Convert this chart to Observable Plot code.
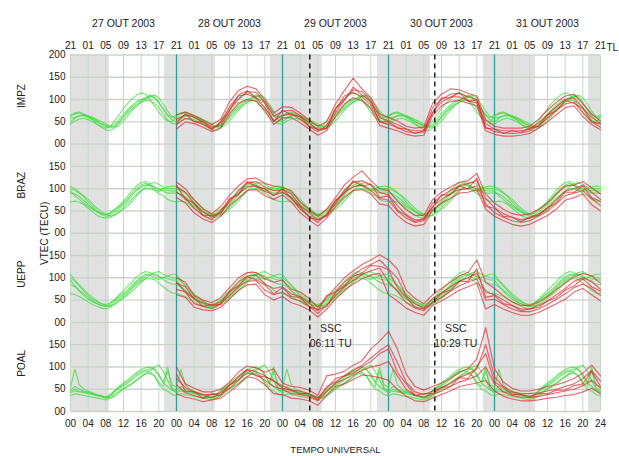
<!DOCTYPE html>
<html>
<head>
<meta charset="utf-8">
<script src="https://cdn.jsdelivr.net/npm/d3@7"></script>
<script src="https://cdn.jsdelivr.net/npm/@observablehq/plot@0.6"></script>
<style>
  html, body { margin: 0; padding: 0; background: #fff; }
  svg { display: block; }
</style>
</head>
<body>
<div id="chart"></div>
<script>
// Stations (top to bottom)
const stations = ["IMPZ", "BRAZ", "UEPP", "POAL"];
const dayLabels = ["27 OUT 2003", "28 OUT 2003", "29 OUT 2003", "30 OUT 2003", "31 OUT 2003"];
const dayBoundaries = [24, 48, 72, 96];             // UT hours (00 TU of each day)
const sscTimes = [54.18, 82.48];                    // 29 OUT 06:11 TU, 30 OUT 10:29 TU
const sscLabels = ["SSC\n06:11 TU", "SSC\n10:29 TU"];
const nightStart = [0, 21.3, 45.3, 69.5, 93.5, 117.3];   // UT hours
const nightEnd   = [8.8, 32.8, 57.0, 81.5, 105.3, 120];
const xTicks = d3.range(0, 121, 4);
const yTicks = d3.range(0, 801, 50);

// Quiet day (27 OUT) hourly VTEC curves, UT 00..23 (overlaid on every day)
const greenIMPZ = [
  [62,70,72,68,62,54,46,40,36,40,52,66,80,92,102,110,115,112,100,86,72,60,52,50],
  [50,58,63,64,62,58,52,45,40,36,40,50,62,74,84,92,98,104,108,104,92,78,64,54],
  [45,52,56,58,55,50,44,38,32,30,36,48,60,70,80,88,94,98,98,92,82,68,54,46],
  [66,68,70,66,60,56,50,46,42,40,44,56,68,78,88,96,100,104,110,106,94,80,66,60],
  [58,60,64,66,64,60,55,50,45,40,38,42,52,64,76,86,94,100,106,110,104,90,74,62]
];
const greenBRAZ = [
  [105,100,92,82,70,60,50,44,42,46,54,62,72,84,96,106,114,116,110,102,98,100,104,106],
  [90,88,82,74,64,56,48,42,38,40,48,56,64,74,86,96,104,108,108,104,100,94,90,90],
  [70,72,70,64,56,48,40,36,34,36,42,50,58,68,78,88,96,100,100,96,90,84,76,72],
  [95,84,76,68,60,54,48,44,42,44,52,60,68,78,90,100,108,112,106,98,94,98,96,95],
  [100,96,90,84,76,66,56,48,42,38,40,46,54,62,72,84,94,104,112,114,110,104,100,100]
];
const greenUEPP = [
  [108,95,82,70,60,52,46,42,40,44,52,62,72,82,92,102,110,114,112,106,102,100,104,108],
  [85,80,72,64,56,48,42,38,36,38,46,54,62,70,80,90,98,104,108,108,104,96,90,86],
  [65,62,58,52,46,40,36,32,30,34,42,50,58,66,76,86,94,98,98,96,88,80,72,66],
  [95,82,70,60,52,46,42,38,36,42,50,58,66,74,84,94,102,108,106,100,96,102,98,95],
  [100,92,84,74,64,56,48,42,38,36,40,46,54,62,70,80,90,98,106,112,114,108,104,100]
];
const greenPOAL = [
  [55,95,60,50,46,42,38,35,32,38,48,56,64,72,80,88,94,98,100,96,80,66,90,60],
  [45,50,46,44,42,40,36,33,30,34,44,52,58,64,72,80,86,92,96,94,84,64,56,48],
  [35,40,38,36,34,32,30,28,26,30,38,46,52,58,64,72,78,84,86,80,62,50,46,38],
  [48,56,50,46,44,40,37,34,32,36,46,54,60,68,76,84,90,92,88,80,66,56,100,52],
  [42,46,44,42,40,38,36,34,32,30,34,42,50,56,62,70,78,86,92,100,104,90,70,50]
];

// Storm days (28-31 OUT) VTEC curves, every 2 h from UT 24 to UT 120
const redIMPZ = [
  [66,72,64,54,44,56,95,120,130,124,100,70, 84,82,70,54,40,50,90,120,148,124,104,68,
   60,52,40,36,38,92,112,124,122,114,108,55, 40,36,36,36,40,56,76,94,108,112,90,68,52],
  [55,66,60,50,38,42,76,100,118,116,95,62, 74,76,64,48,32,36,70,100,122,118,98,60,
   52,44,34,30,30,82,100,112,114,106,100,46, 34,30,30,30,34,48,66,84,100,104,82,60,46],
  [44,58,52,44,34,48,84,108,112,104,82,52, 64,68,56,40,28,42,78,108,116,106,88,50,
   44,38,28,25,26,72,94,106,106,98,92,38, 28,25,24,25,30,42,58,76,90,94,70,50,38],
  [34,50,46,38,28,36,68,92,100,96,76,44, 58,60,48,34,20,30,62,90,104,98,80,42,
   36,30,22,18,20,64,86,96,98,92,86,30, 22,18,18,20,24,36,50,66,82,86,62,44,32],
  [48,68,50,50,32,50,74,110,120,104,92,50, 76,66,62,40,34,34,80,98,128,110,96,50,
   50,36,34,24,30,70,104,104,116,96,100,36, 34,24,30,26,36,40,66,74,98,92,80,50,46]
];
const redBRAZ = [
  [115,100,75,55,44,60,85,106,122,124,112,106, 102,96,70,54,38,54,80,108,126,140,118,100,
   96,72,52,40,40,76,92,104,114,118,134,88, 68,54,44,40,44,54,68,88,106,108,116,102,88],
  [104,92,66,48,36,46,70,95,112,116,104,96, 98,88,62,46,30,40,66,96,114,118,108,92,
   86,62,42,30,30,68,84,96,106,112,118,78, 58,44,36,30,34,44,56,76,94,100,108,92,76],
  [92,80,56,40,30,50,76,88,104,106,94,86, 92,80,54,38,24,44,72,92,104,108,96,78,
   74,50,34,24,28,60,76,88,98,100,106,66, 46,36,28,24,28,38,50,66,84,90,96,78,62],
  [80,68,46,32,24,38,62,78,96,98,84,76, 86,70,46,30,16,34,60,82,96,98,88,66,
   62,40,24,16,20,52,68,78,90,92,98,54, 38,28,20,16,20,30,40,54,74,80,88,64,50],
  [108,76,68,40,40,44,78,86,116,104,100,84, 100,78,60,36,30,38,74,90,118,106,110,80,
   84,52,40,26,34,58,86,86,106,100,124,60, 56,38,36,26,36,40,58,68,92,92,106,80,72]
];
const redUEPP = [
  [100,90,60,50,44,56,78,100,112,112,98,90, 95,75,68,54,34,56,78,100,116,130,140,152,
   140,120,72,54,42,62,76,90,104,112,140,90, 76,60,46,38,38,46,58,74,88,102,110,104,88],
  [88,80,52,44,38,46,68,90,104,106,86,76, 80,64,58,44,26,60,68,90,106,120,130,140,
   120,100,60,42,32,54,66,80,92,100,110,68, 62,50,38,30,30,38,48,62,76,92,100,92,74],
  [74,68,42,36,32,42,60,80,92,94,72,62, 68,54,48,36,20,38,60,80,94,108,116,122,
   90,70,44,32,26,46,56,70,82,90,98,50, 52,40,30,24,24,30,40,52,64,78,86,76,60],
  [62,56,34,28,26,34,52,72,84,86,62,50, 58,44,38,28,12,30,52,72,86,98,106,110,
   62,48,32,22,16,38,48,60,72,80,88,30, 40,30,22,16,16,22,32,42,52,68,76,62,48],
  [90,68,54,36,40,40,70,82,102,96,84,64, 78,58,56,36,28,36,68,82,104,110,128,126,
   118,78,56,34,30,44,66,72,92,92,120,56, 60,42,38,26,30,34,48,56,72,82,98,80,70]
];
const redPOAL = [
  [100,62,52,44,44,50,66,88,102,98,88,96, 64,56,54,48,36,80,84,90,104,114,140,158,
   180,140,84,56,48,56,64,74,88,96,118,188, 96,66,52,46,46,50,56,60,66,74,86,104,80],
  [74,54,44,38,38,42,58,78,94,90,80,68, 58,48,46,40,30,52,74,80,92,104,120,136,
   150,110,66,44,38,46,54,64,76,84,96,150, 78,56,44,40,40,42,46,50,56,62,74,92,68],
  [60,42,36,30,32,38,52,70,86,82,70,56, 50,40,38,34,24,44,64,72,82,92,100,104,
   112,80,50,36,32,38,46,56,66,72,80,100, 62,44,36,32,32,34,38,42,46,50,58,70,52],
  [40,32,28,22,26,30,44,60,78,74,60,40, 38,30,28,24,14,36,56,62,72,82,80,76,
   70,50,34,24,22,30,38,46,56,60,64,70, 46,34,28,24,24,26,30,32,36,38,44,52,40],
  [84,46,44,30,40,36,60,70,94,80,78,70, 52,48,40,40,26,56,66,80,86,100,112,130,
   140,88,62,36,40,40,54,56,76,74,100,130, 66,54,38,38,34,40,40,48,48,58,62,90,56]
];

const greens = {IMPZ: greenIMPZ, BRAZ: greenBRAZ, UEPP: greenUEPP, POAL: greenPOAL};
const reds = {IMPZ: redIMPZ, BRAZ: redBRAZ, UEPP: redUEPP, POAL: redPOAL};

// Build tables: each station panel is stacked by an offset of 200 TECU
const greenRows = [], redRows = [];
stations.forEach((s, i) => {
  const off = (stations.length - 1 - i) * 200;
  greens[s].forEach((curve, c) => {
    for (let t = 0; t <= 120; t++) greenRows.push({id: `${s}-g${c}`, t, v: curve[t % 24] + off});
  });
  reds[s].forEach((curve, c) => {
    curve.forEach((v, k) => redRows.push({id: `${s}-r${c}`, t: 24 + 2 * k, v: v + off}));
  });
});
const nights = nightStart.map((a, i) => ({a, b: nightEnd[i]}));
const stationRows = stations.map((s, i) => ({s, y: (stations.length - 1 - i) * 200 + 108}));
const dayRows = dayLabels.map((d, i) => ({d, x: i * 24 + 12}));
const sscRows = sscTimes.map((t, i) => ({t, label: sscLabels[i]}));

const pad = n => String(n).padStart(2, "0");
const font = "Liberation Sans, Arial, sans-serif";

const chart = Plot.plot({
  width: 619,
  height: 456,
  marginTop: 54.5,
  marginBottom: 45,
  marginLeft: 70,
  marginRight: 19,
  style: {fontFamily: font, fontSize: "10px", background: "#fff", color: "#222"},
  x: {domain: [0, 120]},
  y: {domain: [0, 800]},
  marks: [
    Plot.rect(nights, {x1: "a", x2: "b", fill: "#e1e1e1"}),
    Plot.gridX(xTicks, {stroke: "#c6d9c6", strokeOpacity: 1, strokeWidth: 1}),
    Plot.gridY(yTicks, {stroke: "#cbd3cb", strokeOpacity: 1, strokeWidth: 1.4}),
    Plot.ruleX(dayBoundaries, {stroke: "#2f9ea2", strokeWidth: 1.3}),
    Plot.line(greenRows, {x: "t", y: "v", z: "id", stroke: "#3ddc3d", strokeWidth: 1.15, strokeOpacity: 0.7}),
    Plot.line(redRows, {x: "t", y: "v", z: "id", stroke: "#e3202a", strokeWidth: 1.15, strokeOpacity: 0.68}),
    Plot.ruleX(sscTimes, {stroke: "#222", strokeWidth: 1.5, strokeDasharray: "5,4"}),
    Plot.text(sscRows, {x: "t", y: () => 172, text: "label", dx: 21, lineHeight: 1.45, fontSize: 10.5, fill: "#222"}),
    Plot.axisX(xTicks, {anchor: "bottom", tickSize: 0, tickPadding: 8, label: null,
      tickFormat: t => t === 120 ? "24" : pad(t % 24), fontSize: 10}),
    Plot.axisX(xTicks, {anchor: "top", tickSize: 0, tickPadding: 6, label: null,
      tickFormat: t => pad(((t - 3) % 24 + 24) % 24), fontSize: 10}),
    Plot.axisY(yTicks, {anchor: "left", tickSize: 0, tickPadding: 5, label: null,
      tickFormat: v => v === 800 ? "200" : (v % 200 === 0 ? "00" : String(v % 200)), fontSize: 10}),
    Plot.text(dayRows, {x: "x", text: "d", frameAnchor: "top", dy: -35, fontSize: 10.5, fill: "#222"}),
    Plot.text(["TL"], {frameAnchor: "top-right", dx: 6, dy: -11.5, textAnchor: "start", fontSize: 10, fill: "#222"}),
    Plot.text(stationRows, {y: "y", text: "s", frameAnchor: "left", textAnchor: "middle", dx: -49, rotate: -90, fontSize: 10, fill: "#222"}),
    Plot.text(["VTEC (TECU)"], {y: () => 400, frameAnchor: "left", textAnchor: "middle", dx: -26, rotate: -90, fontSize: 10, fill: "#222"}),
    Plot.text(["TEMPO UNIVERSAL"], {frameAnchor: "bottom", dy: 41, fontSize: 9.5, fill: "#222"})
  ]
});
document.getElementById("chart").appendChild(chart);
</script>
</body>
</html>
